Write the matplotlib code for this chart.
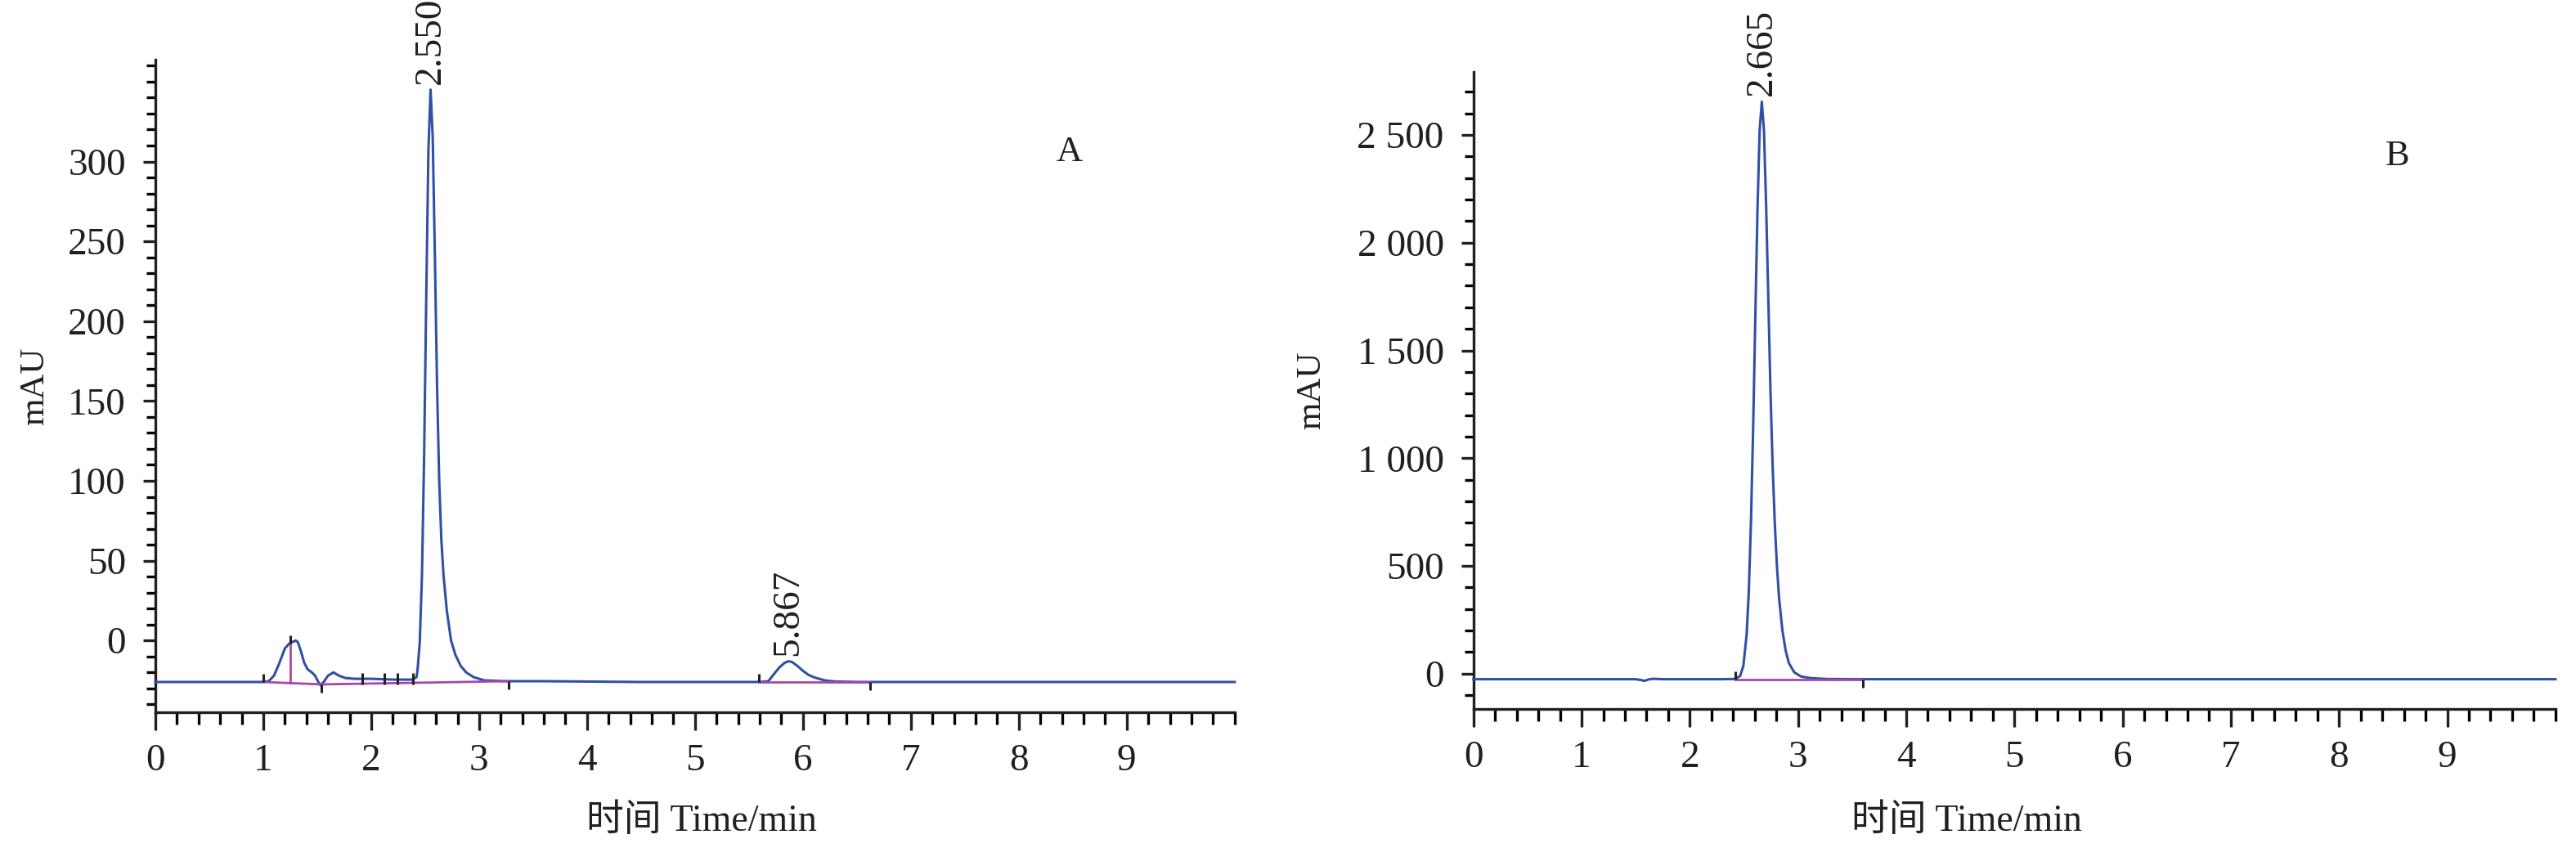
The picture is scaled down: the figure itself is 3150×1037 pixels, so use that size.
import matplotlib
matplotlib.use("Agg")
import matplotlib.pyplot as plt
from matplotlib.ticker import MultipleLocator, FixedLocator, FuncFormatter

# fonts
serif = ['Liberation Serif', 'Noto Sans CJK SC']
plt.rcParams['font.family'] = serif
plt.rcParams['axes.unicode_minus'] = False

# ---- data: chromatogram A ----
time_a = [0.0, 0.5, 1.0, 1.05, 1.1, 1.15, 1.2, 1.24, 1.27, 1.3, 1.32, 1.35, 1.38,
          1.41, 1.45, 1.48, 1.51, 1.53, 1.56, 1.6, 1.65, 1.7, 1.76, 1.85, 2.0,
          2.2, 2.38, 2.42, 2.43, 2.45, 2.47, 2.49, 2.51, 2.53, 2.55, 2.57, 2.59,
          2.61, 2.63, 2.65, 2.67, 2.70, 2.74, 2.78, 2.83, 2.88, 2.95, 3.05, 3.25,
          3.6, 4.5, 5.5, 5.6, 5.68, 5.72, 5.78, 5.83, 5.867, 5.9, 5.95, 6.0, 6.05,
          6.1, 6.2, 6.3, 6.5, 7.5, 8.5, 10.0]
signal_a = [-26, -26, -26, -25.5, -22, -14, -5, -2, -1, 0, -1, -7, -14,
            -18, -20, -22, -26, -28, -26, -22, -20, -22, -23.5, -24, -24,
            -24.5, -24.5, -23, -18, -1, 40, 114, 215, 307, 345, 315, 241,
            160, 100, 63, 41, 19, 0, -9, -16, -20, -23, -25, -25.5,
            -25.5, -26, -26, -26, -25.5, -22, -17, -14, -13, -13.5, -16, -19, -21.5,
            -23, -25, -25.7, -26, -26, -26, -26]

# ---- data: chromatogram B ----
time_b = [0.0, 1.0, 1.5, 1.55, 1.58, 1.62, 1.66, 1.75, 2.0, 2.3, 2.415, 2.465,
          2.495, 2.525, 2.545, 2.565, 2.585, 2.605, 2.625, 2.645, 2.665, 2.685,
          2.705, 2.725, 2.745, 2.765, 2.785, 2.805, 2.825, 2.855, 2.885, 2.915,
          2.965, 3.025, 3.115, 3.265, 3.6, 5.0, 7.0, 10.0]
signal_b = [-26, -26, -26, -30, -34, -27, -24, -26, -26, -26, -25, -11,
            37, 182, 384, 706, 1140, 1652, 2151, 2521, 2655, 2521,
            2172, 1743, 1314, 966, 698, 497, 349, 202, 108, 49,
            6, -13, -21, -25, -26, -26, -26, -26]

# integration baselines and event marks
base_a_t = [[1.0, 1.54, 3.27], [5.59, 6.62]]
base_a_y = [[-26, -27.5, -25.5], [-26, -26]]
drop_a_t = 1.25
drop_a_y = [-26.5, -2]
ticks_a_up = ([1.0, 1.25, 5.59], [-26, -2, -26])
ticks_a_down = ([1.54, 3.27, 6.62], [-27.5, -25.5, -26])
ticks_a_mid = ([1.92, 2.12, 2.24, 2.39], [-24, -24, -24, -24])

base_b_t = [[2.42, 3.6]]
base_b_y = [[-26, -26]]
ticks_b_up = ([2.42], [-26])
ticks_b_down = ([3.6], [-26])

peaks_a = [(2.550, 345), (5.867, -13)]
peaks_b = [(2.665, 2655)]

blue = '#3050A6'
magenta = '#A548A8'
ink = '#231f20'

fig = plt.figure(figsize=(31.5, 10.37), dpi=100)
axA = fig.add_axes([0.0603, 0.160, 0.419, 0.770])
axB = fig.add_axes([0.572, 0.164, 0.420, 0.751])

def style(ax, ylim, ymajor, yminor, fmt):
    ax.set_xlim(0, 10)
    ax.set_ylim(*ylim)
    for s in ['top', 'right']:
        ax.spines[s].set_visible(False)
    for s in ['left', 'bottom']:
        ax.spines[s].set_linewidth(2.4)
        ax.spines[s].set_color(ink)
    ax.xaxis.set_major_locator(FixedLocator(list(range(0, 10))))
    ax.xaxis.set_minor_locator(MultipleLocator(0.2))
    ax.yaxis.set_major_locator(FixedLocator(ymajor))
    ax.yaxis.set_minor_locator(FixedLocator(yminor))
    ax.yaxis.set_major_formatter(FuncFormatter(fmt))
    ax.tick_params(axis='both', colors=ink, labelcolor=ink)
    ax.tick_params(axis='x', which='major', direction='out', length=16, width=2.4,
                   labelsize=34, pad=12)
    ax.tick_params(axis='x', which='minor', direction='out', length=10.5, width=2.4)
    ax.tick_params(axis='y', which='major', direction='out', length=11, width=2.4,
                   labelsize=34, pad=15)
    ax.tick_params(axis='y', which='minor', direction='out', length=8, width=2.4)
    ax.set_ylabel('mAU', fontsize=31, color=ink)
    ax.set_xlabel('时间 Time/min', fontsize=33, color=ink)

style(axA, (-45, 364), list(range(0, 301, 50)), list(range(-40, 361, 10)),
      lambda v, p: f'{v:.0f}')
style(axB, (-164, 2792), list(range(0, 2501, 500)), list(range(-100, 2701, 100)),
      lambda v, p: f'{v:,.0f}'.replace(',', ' '))

axA.yaxis.set_label_coords(-0.097, 0.5)
axA.xaxis.set_label_coords(0.506, -0.141)
axB.yaxis.set_label_coords(-0.135, 0.5)
axB.xaxis.set_label_coords(0.456, -0.149)

# traces
axA.plot(time_a, signal_a, color=blue, lw=2.2, zorder=3, clip_on=False)
axB.plot(time_b, signal_b, color=blue, lw=2.2, zorder=3, clip_on=False)

for t, y in zip(base_a_t, base_a_y):
    axA.plot(t, y, color=magenta, lw=2.0, zorder=4)
axA.plot([drop_a_t, drop_a_t], drop_a_y, color=magenta, lw=2.0, zorder=4)
for t, y in zip(base_b_t, base_b_y):
    axB.plot(t, y, color=magenta, lw=2.0, zorder=4)

for ax, up, down in [(axA, ticks_a_up, ticks_a_down), (axB, ticks_b_up, ticks_b_down)]:
    ax.plot(*up, ls='none', marker=2, ms=7, mew=2.2, color=ink, zorder=5)
    ax.plot(*down, ls='none', marker=3, ms=7, mew=2.2, color=ink, zorder=5)
axA.plot(*ticks_a_mid, ls='none', marker='|', ms=10, mew=2.2, color=ink, zorder=5)

# peak retention-time labels
for ax, peaks in [(axA, peaks_a), (axB, peaks_b)]:
    for t, h in peaks:
        ax.annotate(f'{t:.3f}', xy=(t, h), xytext=(0, 5), textcoords='offset points',
                    rotation=90, ha='center', va='bottom', fontsize=34, color=ink,
                    annotation_clip=False)

axA.text(0.847, 0.858, 'A', transform=axA.transAxes, fontsize=32, color=ink,
         ha='center', va='center')
axB.text(0.854, 0.868, 'B', transform=axB.transAxes, fontsize=32, color=ink,
         ha='center', va='center')

fig.savefig('out.png', dpi=100, facecolor='white')
